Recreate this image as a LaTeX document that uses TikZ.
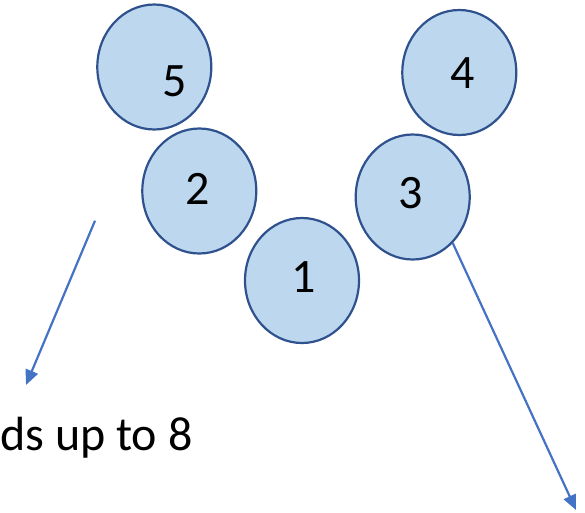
\documentclass[tikz,border=0pt]{standalone}
\usepackage{fontspec}
\setmainfont{Carlito}
\usetikzlibrary{shapes.geometric,arrows.meta}
\definecolor{bfill}{HTML}{BDD7EE}
\definecolor{bline}{HTML}{2F528F}
\definecolor{arr}{HTML}{4472C4}
\begin{document}
\begin{tikzpicture}[x=1pt,y=-1pt,
  ball/.style={ellipse, draw=bline, fill=bfill, line width=2.2pt, minimum width=114pt, minimum height=125pt, inner sep=0pt},
  num/.style={inner sep=0pt, font=\fontsize{48}{48}\selectfont},
  link/.style={draw=arr, line width=2.2pt, -{Triangle[length=15pt,width=13pt]}}]
\useasboundingbox (0,0) rectangle (585,512);
\node[ball] (c5) at (154.3,67) {};
\node[ball] (c2) at (199.3,191) {};
\node[ball] (c1) at (302,280.5) {};
\node[ball] (c4) at (459.3,72.5) {};
\node[ball] (c3) at (412.7,197) {};
\node[num] (t5) at (175,81.7) {5};
\node[num] (t2) at (197.3,188.7) {2};
\node[num] (t1) at (304,277) {1};
\node[num] (t4) at (462.5,72.8) {4};
\node[num] (t3) at (410.3,192.8) {3};
\coordinate (a1) at (95,220.7);
\coordinate (a2) at (26,385);
\draw[link] (a1) -- (a2);
\coordinate (b2) at (576,510);
\draw[link] (c3.-49) -- (b2);
\node[num, anchor=base west] (txt) at (0,450) {ds up to 8};
\end{tikzpicture}
\end{document}
